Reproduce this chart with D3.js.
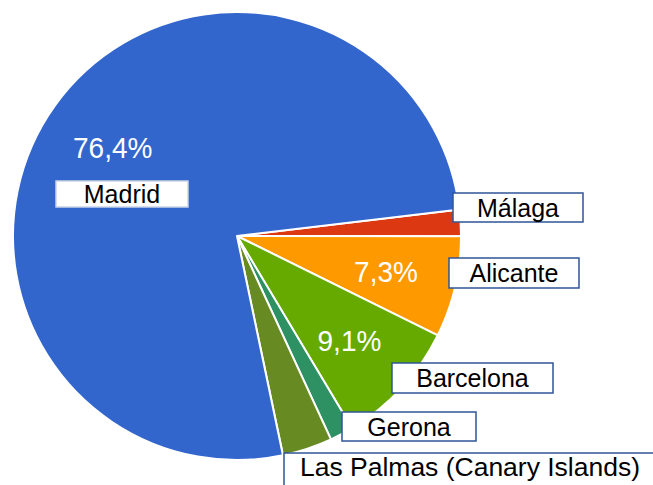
<!DOCTYPE html>
<html>
<head>
<meta charset="utf-8">
<script src="https://cdn.jsdelivr.net/npm/d3@7"></script>
<style>
  body { margin: 0; background: #fff; }
  text { font-family: "Liberation Sans", Arial, sans-serif; }
</style>
</head>
<body>
<div id="chart"></div>
<script>
// slice data, clockwise from the Málaga slice
const cities = ["Málaga", "Alicante", "Barcelona", "Gerona", "Las Palmas (Canary Islands)", "Madrid"];
const shares = [1.9, 7.3, 9.1, 1.7, 3.6, 76.4];
const colors = ["#dc3912", "#ff9900", "#66aa00", "#2e9164", "#678b22", "#3366cc"];

// setting the dimensions
const width = 653;
const height = 485;
const cx = 237, cy = 236, radius = 224;

// name boxes placed by hand next to the slices
const boxes = [
    {x: 453, y: 193, w: 130, h: 29, stroke: "#2f5597"},
    {x: 449, y: 258, w: 130, h: 30, stroke: "#2f5597"},
    {x: 392, y: 363, w: 161, h: 30, stroke: "#2f5597"},
    {x: 342, y: 412, w: 134, h: 29, stroke: "#2f5597"},
    {x: 284, y: 453, w: 380, h: 40, stroke: "#2f5597", tx: 300, ty: 467, anchor: "start", len: 340},
    {x: 56, y: 181, w: 132, h: 26, stroke: "#c9d3e6"}
];

const svg = d3.select("#chart")
    .append("svg")
    .attr("width", width)
    .attr("height", height);

const g = svg.append("g")
    .attr("transform", `translate(${cx},${cy})`);

const data = cities.map((c, i) => ({city: c, share: shares[i], color: colors[i]}));

// pie starts a little above 3 o'clock
const startDeg = 83.2;
const pie = d3.pie()
    .sort(null)
    .value(d => d.share)
    .startAngle(startDeg * Math.PI / 180)
    .endAngle((startDeg + 360) * Math.PI / 180);

const arc = d3.arc().innerRadius(0).outerRadius(radius);
const labelArc = d3.arc().innerRadius(153).outerRadius(153);

const arcs = pie(data);

g.selectAll(".slice")
    .data(arcs)
    .enter()
    .append("path")
    .attr("class", "slice")
    .attr("d", arc)
    .attr("fill", d => d.data.color)
    .attr("stroke", "#fff")
    .attr("stroke-width", 2)
    .attr("stroke-linejoin", "round");

// percentage labels only on the bigger slices
const fmt = v => v.toFixed(1).replace(".", ",") + "%";
g.selectAll(".pct")
    .data(arcs.filter(d => d.data.share >= 5))
    .enter()
    .append("text")
    .attr("class", "pct")
    .attr("transform", d => `translate(${labelArc.centroid(d)}) scale(1,1.08)`)
    .attr("text-anchor", "middle")
    .attr("dy", "0.36em")
    .attr("font-size", 28)
    .attr("fill", "#fff")
    .text(d => fmt(d.data.share));

// name boxes
const nb = svg.selectAll(".namebox")
    .data(data)
    .enter()
    .append("g")
    .attr("class", "namebox");

nb.append("rect")
    .attr("x", (d, i) => boxes[i].x)
    .attr("y", (d, i) => boxes[i].y)
    .attr("width", (d, i) => boxes[i].w)
    .attr("height", (d, i) => boxes[i].h)
    .attr("fill", "#fff")
    .attr("stroke", (d, i) => boxes[i].stroke)
    .attr("stroke-width", 1.5);

nb.append("text")
    .attr("x", (d, i) => boxes[i].tx !== undefined ? boxes[i].tx : boxes[i].x + boxes[i].w / 2)
    .attr("y", (d, i) => boxes[i].ty !== undefined ? boxes[i].ty : boxes[i].y + boxes[i].h / 2)
    .attr("dy", "0.36em")
    .attr("text-anchor", (d, i) => boxes[i].anchor || "middle")
    .attr("font-size", 25)
    .attr("fill", "#000")
    .each(function(d, i) {
        if (boxes[i].len) d3.select(this).attr("textLength", boxes[i].len).attr("lengthAdjust", "spacingAndGlyphs");
    })
    .text(d => d.city);
</script>
</body>
</html>
